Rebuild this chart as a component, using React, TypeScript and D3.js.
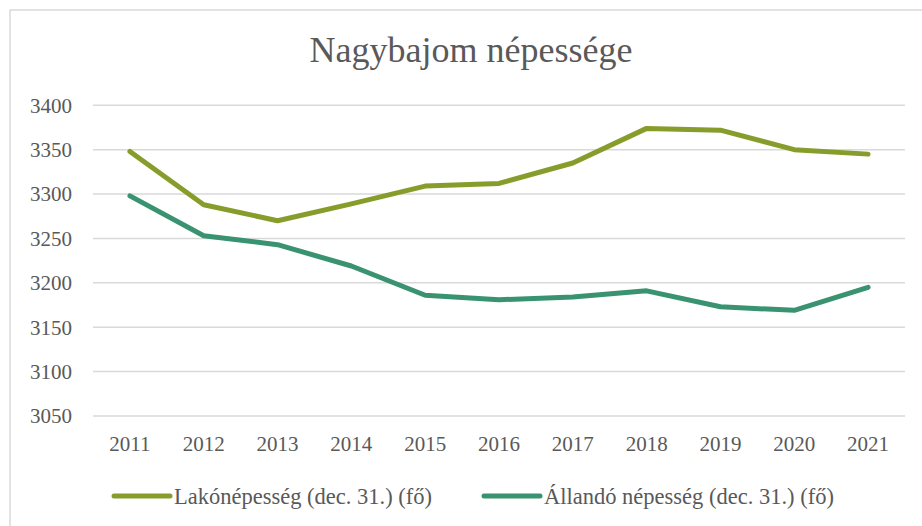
import React from "react";
import * as d3 from "d3";

const years = ["2011","2012","2013","2014","2015","2016","2017","2018","2019","2020","2021"];
const lakoNepesseg = [3348, 3288, 3270, 3289, 3309, 3312, 3335, 3374, 3372, 3350, 3345];
const allandoNepesseg = [3298, 3253, 3243, 3219, 3186, 3181, 3184, 3191, 3173, 3169, 3195];
const yTicks = [3050, 3100, 3150, 3200, 3250, 3300, 3350, 3400];
const seriesNames = ["Lakónépesség (dec. 31.) (fő)", "Állandó népesség (dec. 31.) (fő)"];
const title = "Nagybajom népessége";

const W = 922, H = 526;
const plot = { left: 93, right: 905, top: 105.3, bottom: 416 };
const colors = ["#879d2b", "#3a9370"];
const textColor = "#595959";
const gridColor = "#d9d9d9";
const font = "Liberation Serif, DejaVu Serif, serif";

export default function App() {
  const x = d3.scaleBand<string>().domain(years).range([plot.left, plot.right]).padding(0);
  const cx = (d: string) => (x(d) as number) + x.bandwidth() / 2;
  const y = d3.scaleLinear().domain([3050, 3400]).range([plot.bottom, plot.top]);
  const line = d3.line<number>().x((_, i) => cx(years[i])).y((v) => y(v));
  const series = [lakoNepesseg, allandoNepesseg];

  return (
    <svg width={W} height={H} style={{ position: "absolute", left: 0, top: 0, background: "#fff", fontFamily: font }}>
      <rect x={10} y={10} width={W + 10} height={H + 10} fill="#fff" stroke={gridColor} strokeWidth={1.5} />
      <text x={471} y={62} textAnchor="middle" fontSize={36} fill={textColor}>{title}</text>
      {yTicks.map((t) => (
        <g key={t}>
          <line x1={plot.left} x2={plot.right} y1={y(t)} y2={y(t)} stroke={gridColor} strokeWidth={1.5} />
          <text x={72} y={y(t)} dy="0.35em" textAnchor="end" fontSize={21} fill={textColor}>{t}</text>
        </g>
      ))}
      {years.map((yr) => (
        <text key={yr} x={cx(yr)} y={451} textAnchor="middle" fontSize={21} fill={textColor}>{yr}</text>
      ))}
      {series.map((s, i) => (
        <path key={i} d={line(s) || ""} fill="none" stroke={colors[i]} strokeWidth={5} strokeLinejoin="round" strokeLinecap="round" />
      ))}
      {seriesNames.map((n, i) => {
        const lx = [114, 484][i];
        return (
          <g key={n}>
            <line x1={lx} x2={lx + 56} y1={496} y2={496} stroke={colors[i]} strokeWidth={5} strokeLinecap="round" />
            <text x={lx + 60} y={496} dy="0.35em" fontSize={22.5} fill={textColor}>{n}</text>
          </g>
        );
      })}
    </svg>
  );
}
